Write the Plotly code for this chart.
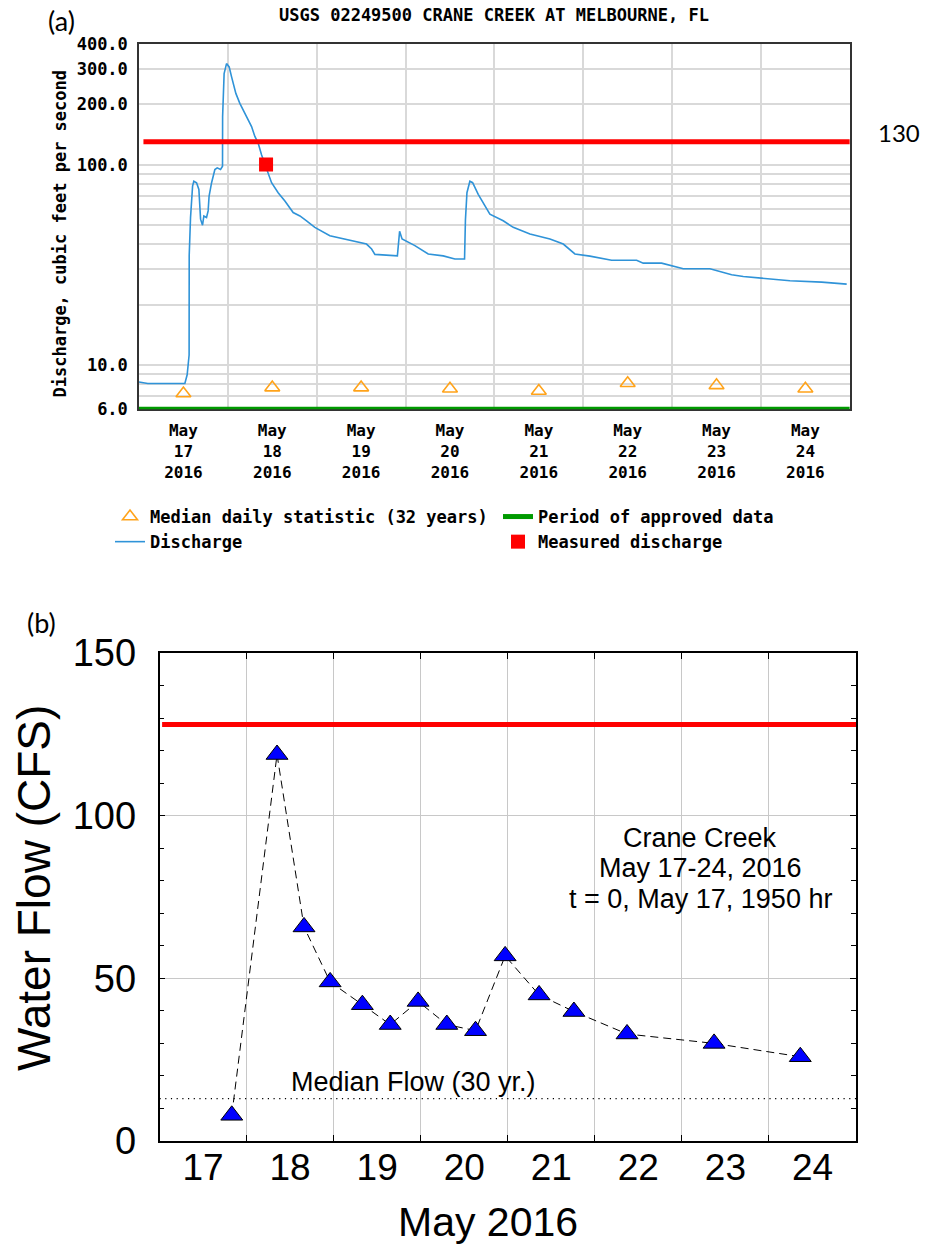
import math
import plotly.graph_objects as go

# ---------------- data ----------------
# (a) USGS 15-minute discharge record, day of May 2016 (fractional) vs cfs
discharge_day = [17.000, 17.099, 17.516, 17.542, 17.564, 17.565, 17.580, 17.603, 17.617, 17.648,
                 17.674, 17.693, 17.715, 17.730, 17.760, 17.778, 17.789, 17.817, 17.854, 17.880,
                 17.918, 17.940, 17.941, 17.958, 17.985, 18.015, 18.042, 18.090, 18.135, 18.191,
                 18.267, 18.304, 18.341, 18.379, 18.436, 18.492, 18.566, 18.642, 18.735, 18.811,
                 18.886, 18.979, 19.148, 19.373, 19.561, 19.618, 19.655, 19.908, 19.933, 19.961,
                 20.105, 20.255, 20.424, 20.555, 20.664, 20.674, 20.691, 20.724, 20.755, 20.818,
                 20.949, 21.099, 21.212, 21.400, 21.625, 21.775, 21.906, 22.075, 22.319, 22.601,
                 22.675, 22.882, 22.995, 23.126, 23.426, 23.539, 23.670, 23.801, 23.970, 24.177,
                 24.327, 24.684, 24.965]
discharge_cfs = [8.21, 8.07, 8.07, 8.92, 11.2, 35.1, 54.4, 78.1, 82.6, 81.2,
                 75.2, 53.4, 49.8, 55.4, 54.4, 58.7, 69.7, 81.2, 94.5, 96.3,
                 94.5, 98.1, 173.6, 284.9, 319.4, 307.2, 274.1, 226.7, 202.2, 180.5,
                 154.9, 138.2, 128.1, 112.1, 94.5, 81.2, 72.4, 65.8, 57.6, 55.4,
                 52.4, 48.6, 44.1, 41.7, 40.1, 37.9, 35.6, 35.0, 46.4, 42.5,
                 39.4, 35.8, 35.0, 33.8, 33.8, 52.8, 72.4, 82.6, 81.2, 71.0,
                 56.5, 52.4, 48.6, 45.0, 42.5, 40.1, 35.8, 34.9, 33.3, 33.3,
                 32.2, 32.2, 31.3, 30.2, 30.2, 29.2, 28.2, 27.6, 27.1, 26.7,
                 26.3, 25.9, 25.3]

# median daily statistic (32 years), plotted at noon of each day
days = [17, 18, 19, 20, 21, 22, 23, 24]
median_cfs = [7.2, 7.7, 7.7, 7.6, 7.4, 8.1, 7.9, 7.6]

measured_day = [18.43]
measured_cfs = [100.0]

threshold_a = 130          # labelled threshold on the USGS panel
threshold_a_start = 17.05
approved_period = [17.0, 25.0]

y_ticks_a = [6, 10, 100, 200, 300, 400]
y_minor_a = [7, 8, 9, 20, 30, 40, 50, 60, 70, 80, 90]

# (b) sampled flow, t = 0 at May 17 19:50
flow_day = [17.83, 18.35, 18.66, 18.96, 19.33, 19.65, 19.97, 20.30, 20.63, 20.97,
            21.36, 21.76, 22.37, 23.37, 24.36]
flow_cfs = [7.9, 118.8, 65.8, 48.9, 41.9, 35.8, 42.9, 35.8, 33.9, 56.9,
            44.9, 39.8, 32.9, 30.0, 25.9]
threshold_b = 128
threshold_b_start = 17.03
median_flow_b = 13
y_ticks_b = [0, 50, 100, 150]

# ---------------- layout helpers ----------------
W, H = 929, 1251


def px_x(p):
    return p / W


def px_y(p):
    return 1 - p / H


MONO = "DejaVu Sans Mono"
SANS = "Liberation Sans"
CAL = "Lato"

day_mid = [d + 0.5 for d in days]
midnights = [d + 1 for d in days[:-1]]

fig = go.Figure()

# ---------- panel (a) ----------
fig.add_trace(go.Scatter(
    x=day_mid, y=median_cfs, mode="markers", name="Median daily statistic (32 years)",
    marker=dict(symbol="triangle-up-open", size=13, color="#ffa31a", line=dict(width=1.6, color="#ffa31a")),
    xaxis="x", yaxis="y", legend="legend"))
fig.add_trace(go.Scatter(
    x=discharge_day, y=discharge_cfs, mode="lines", name="Discharge",
    line=dict(color="#2f93d8", width=1.6), xaxis="x", yaxis="y", legend="legend"))
fig.add_trace(go.Scatter(
    x=approved_period, y=[y_ticks_a[0], y_ticks_a[0]], mode="lines", name="Period of approved data",
    line=dict(color="#009a00", width=5), cliponaxis=False, xaxis="x", yaxis="y", legend="legend2"))
fig.add_trace(go.Scatter(
    x=measured_day, y=measured_cfs, mode="markers", name="Measured discharge",
    marker=dict(symbol="square", size=14, color="#ff0000"), xaxis="x", yaxis="y", legend="legend2"))
fig.add_trace(go.Scatter(
    x=[threshold_a_start, approved_period[1]], y=[threshold_a, threshold_a], mode="lines",
    line=dict(color="#ff0000", width=5), showlegend=False, xaxis="x", yaxis="y"))

# ---------- panel (b) ----------
fig.add_trace(go.Scatter(
    x=[threshold_b_start, 25], y=[threshold_b, threshold_b], mode="lines",
    line=dict(color="#ff0000", width=5), showlegend=False, xaxis="x2", yaxis="y2"))
fig.add_trace(go.Scatter(
    x=[17, 25], y=[median_flow_b, median_flow_b], mode="lines",
    line=dict(color="black", width=1.2, dash="1.2px,4.5px"), showlegend=False, xaxis="x2", yaxis="y2"))
fig.add_trace(go.Scatter(
    x=flow_day, y=flow_cfs, mode="lines+markers",
    line=dict(color="black", width=1, dash="8px,5px"),
    marker=dict(symbol="triangle-up", size=19, color="#0000ff", line=dict(color="black", width=1)),
    showlegend=False, xaxis="x2", yaxis="y2"))

mono17 = dict(family=MONO, size=17, color="black", weight="bold")
mono16 = dict(family=MONO, size=16, color="black", weight="bold")

fig.update_layout(
    width=W, height=H, margin=dict(l=0, r=0, t=0, b=0, autoexpand=False),
    paper_bgcolor="white", plot_bgcolor="white",
    xaxis=dict(
        domain=[px_x(139), px_x(849.8)], range=[17, 25], anchor="y", automargin=False,
        tickmode="array", tickvals=day_mid,
        ticktext=[f"May<br>{d}<br>2016" for d in days],
        ticks="", showgrid=False, zeroline=False,
        minor=dict(tickmode="array", tickvals=midnights, showgrid=True, gridcolor="#d9d9d9", gridwidth=2, ticks=""),
        showline=True, linecolor="#333333", linewidth=1.5, mirror=True, layer="below traces",
        tickfont=mono16, ticklabelstandoff=6),
    yaxis=dict(
        domain=[px_y(409.3), px_y(44)], type="log", range=[math.log10(6), math.log10(400)], anchor="x",
        automargin=False,
        tickmode="array", tickvals=y_ticks_a, ticktext=[f"{v:.1f}" for v in y_ticks_a],
        ticks="", showgrid=True, gridcolor="#d9d9d9", gridwidth=2, zeroline=False,
        minor=dict(tickmode="array", tickvals=y_minor_a, showgrid=True, gridcolor="#d9d9d9", gridwidth=2, ticks=""),
        showline=True, linecolor="#333333", linewidth=1.5, mirror=True,
        tickfont=mono17, ticklabelstandoff=6),
    xaxis2=dict(
        domain=[px_x(159.5), px_x(856)], range=[17, 25], anchor="y2", automargin=False,
        tickmode="array", tickvals=day_mid, ticktext=[str(d) for d in days],
        ticks="", showgrid=False, zeroline=False,
        minor=dict(tickmode="array", tickvals=midnights, showgrid=True, gridcolor="#c8c8c8", gridwidth=1,
                   ticks="inside", ticklen=6, tickcolor="black"),
        showline=True, linecolor="black", linewidth=1.5, mirror="allticks",
        tickfont=dict(family=SANS, size=37, color="black"), ticklabelstandoff=-7),
    yaxis2=dict(
        domain=[px_y(1141), px_y(653)], range=[0, 150], anchor="x2", automargin=False,
        tickmode="array", tickvals=y_ticks_b, ticks="inside", ticklen=6, tickcolor="black",
        showgrid=True, gridcolor="#c8c8c8", gridwidth=1, zeroline=False,
        minor=dict(dtick=10, ticks="inside", ticklen=5, tickcolor="black", showgrid=False),
        showline=True, linecolor="black", linewidth=1.5, mirror="allticks",
        tickfont=dict(family=SANS, size=38, color="black"), ticklabelstandoff=14),
    legend=dict(x=px_x(110), y=px_y(499), xanchor="left", yanchor="top", orientation="v",
                font=mono17, bgcolor="rgba(0,0,0,0)", tracegroupgap=0, itemwidth=30),
    legend2=dict(x=px_x(498), y=px_y(499), xanchor="left", yanchor="top", orientation="v",
                 font=mono17, bgcolor="rgba(0,0,0,0)", tracegroupgap=0, itemwidth=30),
)

ann = [
    dict(text="USGS 02249500 CRANE CREEK AT MELBOURNE, FL", x=px_x(494), y=px_y(15), font=mono17),
    dict(text="(a)", x=px_x(62), y=px_y(20), font=dict(family=CAL, size=27, color="black")),
    dict(text="130", x=px_x(899), y=px_y(133), font=dict(family=CAL, size=24, color="black")),
    dict(text="Discharge, cubic feet per second", x=px_x(59), y=px_y(233.5), textangle=-90, font=mono17),
    dict(text="(b)", x=px_x(41), y=px_y(623), font=dict(family=CAL, size=27, color="black")),
    dict(text="Water Flow (CFS)", x=px_x(34), y=px_y(888), textangle=-90,
         font=dict(family=SANS, size=46, color="black")),
    dict(text="May 2016", x=px_x(488), y=px_y(1222), font=dict(family=SANS, size=41, color="black")),
    dict(text="Crane Creek", x=px_x(700), y=px_y(838), font=dict(family=SANS, size=27, color="black")),
    dict(text="May 17-24, 2016", x=px_x(700), y=px_y(868), font=dict(family=SANS, size=27, color="black")),
    dict(text="t = 0, May 17, 1950 hr", x=px_x(700), y=px_y(899), font=dict(family=SANS, size=27, color="black")),
    dict(text="Median Flow (30 yr.)", x=px_x(289), y=px_y(1082), xanchor="left",
         font=dict(family=SANS, size=27, color="black")),
]
for a in ann:
    a.setdefault("xanchor", "center")
    a.setdefault("yanchor", "middle")
    fig.add_annotation(xref="paper", yref="paper", showarrow=False, **a)

fig.write_html("out.html")
